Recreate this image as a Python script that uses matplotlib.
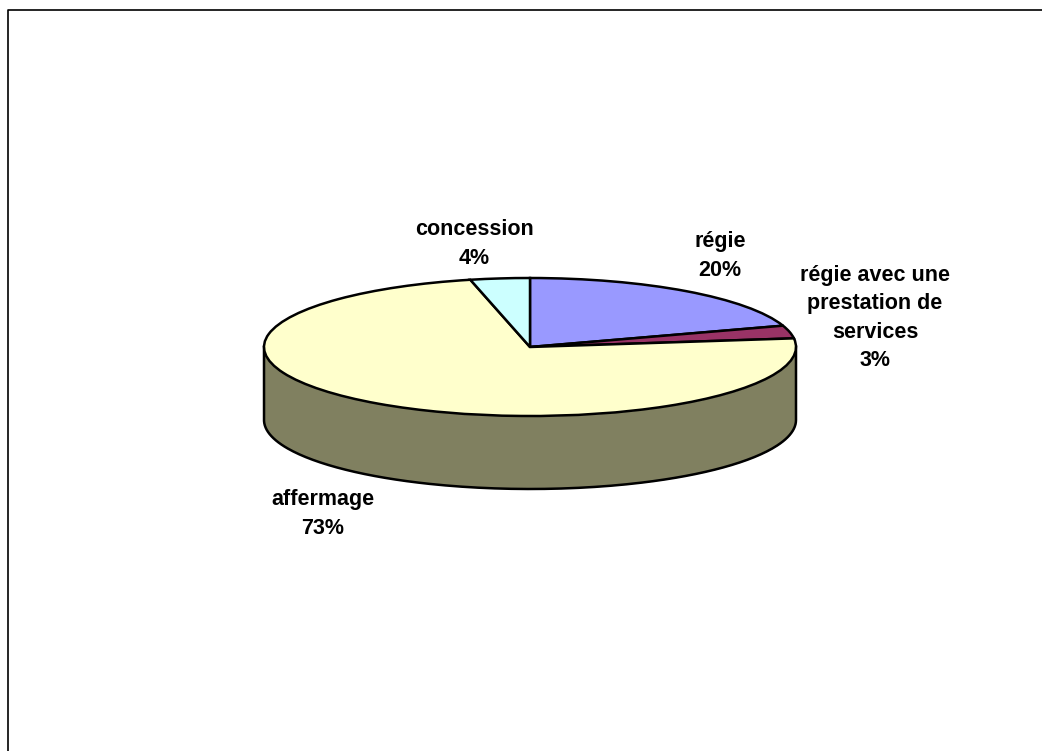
import numpy as np
import matplotlib
matplotlib.use("Agg")
import matplotlib.pyplot as plt

plt.rcParams['font.family'] = ['Liberation Sans', 'DejaVu Sans']

# Pie values, clockwise from 12 o'clock
labels = ["régie", "régie avec une\nprestation de\nservices", "affermage", "concession"]
values = [20, 3, 73.4, 3.6]
colors = ["#9999FF", "#993366", "#FFFFCC", "#CCFFFF"]
wall_color = "#808060"

# label centres in pixels
label_x = [720, 875, 323, 474]
label_y = [256, 318, 514, 244]

W, H = 1042, 751
cx, cy = 530, 347      # centre of the top ellipse
rx, ry = 266, 69       # ellipse radii
depth = 73 / ry
lw = 1.8

fig = plt.figure(figsize=(W / 100, H / 100), dpi=100)
ax = fig.add_axes([0, 0, 1, 1])

# side wall, only the front half shows
t = np.linspace(np.pi, 2 * np.pi, 200)
ax.fill_between(np.cos(t), np.sin(t), np.sin(t) - depth, color=wall_color, lw=0, zorder=1)
outline_x = np.r_[-1, np.cos(t), 1]
outline_y = np.r_[0, np.sin(t) - depth, 0]
ax.plot(outline_x, outline_y, color="black", lw=lw, zorder=2)

# top of the pie, stretched flat with aspect auto
ax.pie(values, colors=colors, startangle=90, counterclock=False, radius=1, frame=True,
       wedgeprops=dict(edgecolor="black", linewidth=lw, zorder=3))
ax.set_aspect("auto")
ax.set_xlim(-cx / rx, (W - cx) / rx)
ax.set_ylim((cy - H) / ry, cy / ry)
ax.axis("off")

# labels
for name, val, px, py in zip(labels, values, label_x, label_y):
    ax.text(px / W, 1 - py / H, "%s\n%.0f%%" % (name, val), transform=fig.transFigure,
            ha="center", va="center", fontsize=15.5, fontweight="bold",
            linespacing=1.46, color="black", zorder=5)

# chart border, runs off the right and bottom of the image
fig.add_artist(plt.Line2D([7.5 / W, 7.5 / W, 1], [0, 1 - 9.5 / H, 1 - 9.5 / H],
                          color="black", lw=1.2, transform=fig.transFigure))

fig.savefig("out.png", dpi=100)
